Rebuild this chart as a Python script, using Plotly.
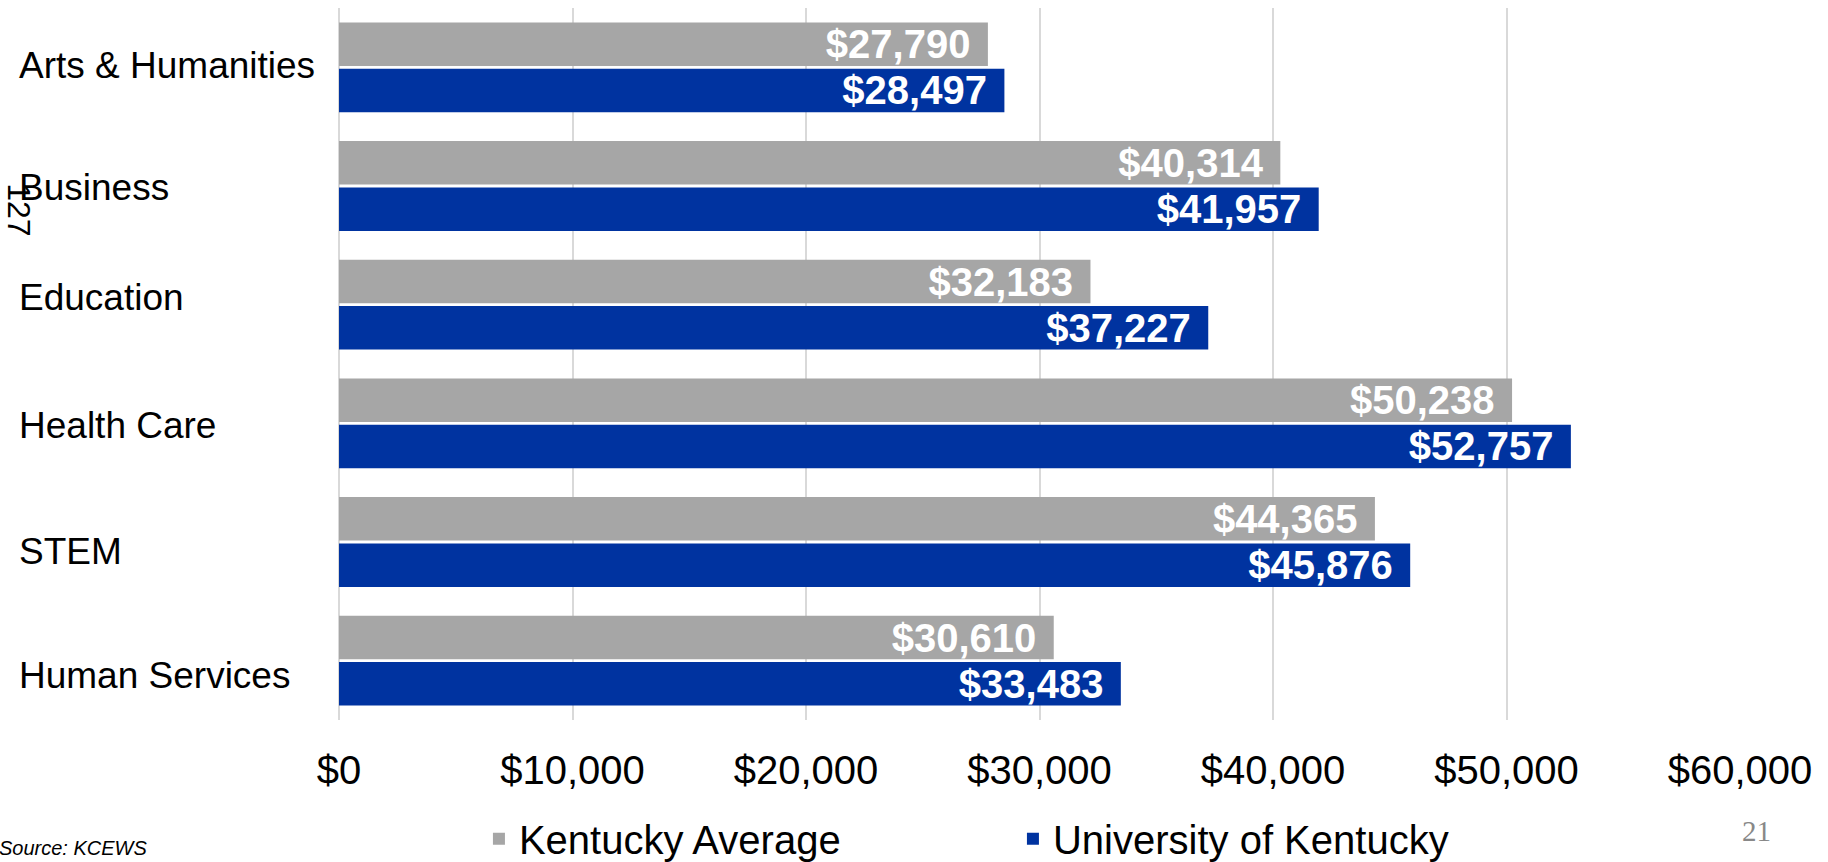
import plotly.graph_objects as go

# Dados
categorias = ['Arts & Humanities', 'Business', 'Education', 'Health Care', 'STEM', 'Human Services']
ky_media = [27790, 40314, 32183, 50238, 44365, 30610]
uk_valores = [28497, 41957, 37227, 52757, 45876, 33483]
series = ['Kentucky Average', 'University of Kentucky']
cores = ['#A6A6A6', '#0033A0']

fonte = 'Liberation Sans, Arial, sans-serif'

# deslocamento vertical dos rótulos das categorias (px), como no slide original
ajuste_rotulos = [2, -1, 7, -2, -9, -15]

fig = go.Figure()

for nome, valores, cor in zip(series, [ky_media, uk_valores], cores):
    fig.add_trace(go.Bar(
        name=nome,
        y=categorias,
        x=valores,
        orientation='h',
        marker=dict(color=cor, line=dict(width=0)),
        texttemplate='$%{x:,}\u00a0\u200a',
        textposition='inside',
        insidetextanchor='end',
        constraintext='none',
        textfont=dict(family=fonte, size=40, color='white', weight='bold'),
    ))

# Rótulos das categorias alinhados à esquerda
for cat, dy in zip(categorias, ajuste_rotulos):
    fig.add_annotation(
        x=-0.2298, xref='paper', xanchor='left',
        y=cat, yref='y', yanchor='middle', yshift=dy,
        text=cat, showarrow=False,
        font=dict(family=fonte, size=37, color='black'),
    )

# Textos soltos do slide
fig.add_annotation(
    x=-0.2425, xref='paper', y=0.757, yref='paper',
    text='127', textangle=90, showarrow=False,
    font=dict(family=fonte, size=32, color='black'),
)
fig.add_annotation(
    x=-0.244, xref='paper', xanchor='left', y=-0.18, yref='paper', yanchor='middle',
    text='<i>Source: KCEWS</i>', showarrow=False,
    font=dict(family=fonte, size=20, color='black'),
)
fig.add_annotation(
    x=1.0, xref='paper', xanchor='left', y=-0.156, yref='paper', yanchor='middle',
    text='21', showarrow=False,
    font=dict(family='Liberation Serif, Times New Roman, serif', size=29, color='#888888'),
)

fig.update_layout(
    width=1828,
    height=862,
    margin=dict(l=339, r=88, t=8, b=142, autoexpand=False),
    paper_bgcolor='white',
    plot_bgcolor='white',
    barmode='group',
    bargap=0.22,
    bargroupgap=0.06,
    uniformtext=dict(minsize=40, mode='show'),
    font=dict(family=fonte, size=38, color='black'),
    showlegend=True,
    legend=dict(
        orientation='h',
        xref='container', yref='container',
        x=0.262, xanchor='left',
        y=0.027, yanchor='middle',
        font=dict(family=fonte, size=40, color='black'),
        entrywidth=489,
        entrywidthmode='pixels',
    ),
    xaxis=dict(
        range=[0, 60000],
        tick0=0,
        dtick=10000,
        tickprefix='$',
        showtickprefix='all',
        tickformat=',',
        showgrid=True,
        gridcolor='#D9D9D9',
        gridwidth=2,
        zeroline=True,
        zerolinecolor='#D9D9D9',
        zerolinewidth=2,
        showline=False,
        ticks='',
        ticklabelstandoff=23,
        tickfont=dict(family=fonte, size=40, color='black'),
        automargin=False,
        fixedrange=True,
    ),
    yaxis=dict(
        autorange='reversed',
        showticklabels=False,
        showgrid=False,
        zeroline=False,
        showline=False,
        ticks='',
        automargin=False,
        fixedrange=True,
    ),
)

# sem margem no body para a figura ocupar a janela inteira
fig.write_html(
    'out.html',
    config={'displayModeBar': False},
    post_script="document.body.style.margin = '0';",
)
